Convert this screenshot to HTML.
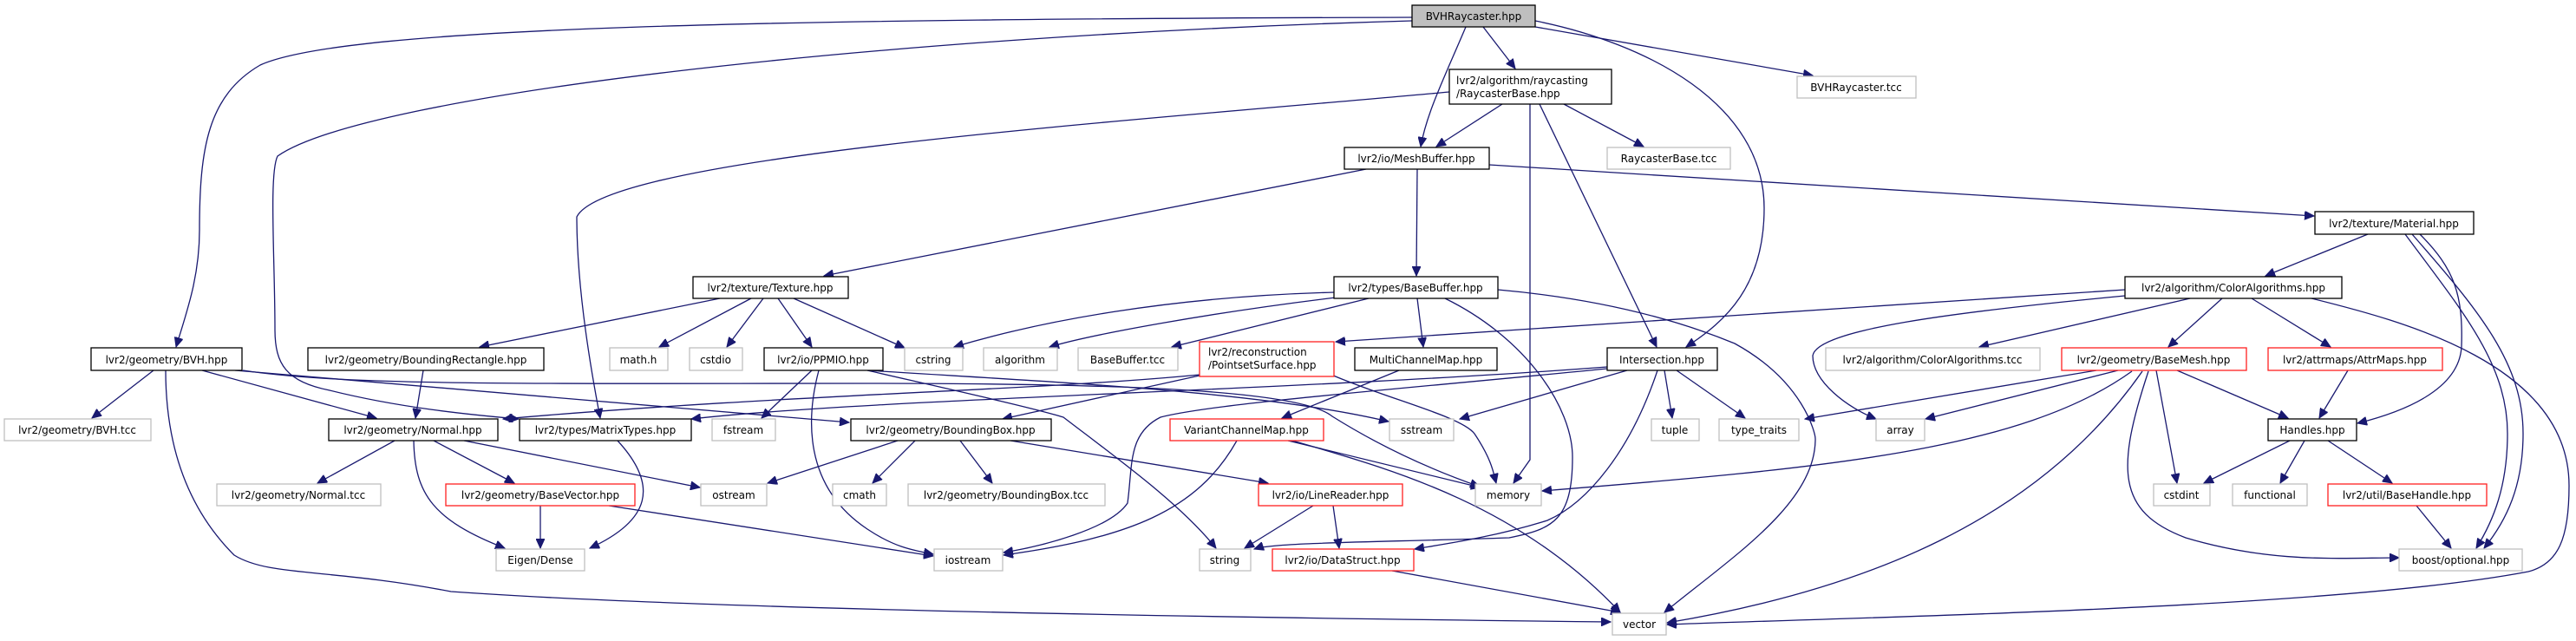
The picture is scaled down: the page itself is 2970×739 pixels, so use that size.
<!DOCTYPE html>
<html><head><meta charset="utf-8"><style>
html,body{margin:0;padding:0;background:#fff;}
svg{display:block;}
text{font-family:"DejaVu Sans","Liberation Sans",sans-serif;font-size:12px;fill:#000;}
.e{fill:none;stroke:#191970;stroke-width:1.3;marker-end:url(#a);}
.b{fill:#fff;stroke:#000;stroke-width:1.3;}
.r{fill:#fff;stroke:#ff2020;stroke-width:1.3;}
.g{fill:#fff;stroke:#bfbfbf;stroke-width:1.3;}
</style></head><body>
<svg width="2970" height="739" viewBox="0 0 2970 739" xmlns="http://www.w3.org/2000/svg">
<defs><marker id="a" markerUnits="userSpaceOnUse" markerWidth="12" markerHeight="10" refX="11" refY="5" orient="auto"><path d="M0,0 L11,5 L0,10 Z" fill="#191970" stroke="#191970"/></marker></defs>

<!-- edges -->
<path class="e" d="M1628,20 C900,22 400,30 300,75 C240,110 230,170 230,265 C230,320 215,360 203,400"/>
<path class="e" d="M1628,24 C1000,42 420,110 320,180 C310,200 317,300 317,380 C317,420 330,440 380,450 C460,470 540,478 598,483"/>
<path class="e" d="M1690,31 C1665,90 1645,130 1638,169"/>
<path class="e" d="M1710,31 L1747,79"/>
<path class="e" d="M1770,31 L2090,87"/>
<path class="e" d="M1770,24 C1900,50 2034,120 2034,240 C2034,330 1990,370 1944,400"/>
<path class="e" d="M1671,106 C1300,140 700,180 665,250 C665,330 680,420 692,482"/>
<path class="e" d="M1732,120 L1656,169"/>
<path class="e" d="M1803,120 L1895,169"/>
<path class="e" d="M1764,120 L1764,530 L1745,557"/>
<path class="e" d="M1775,120 L1910,400"/>
<path class="e" d="M1575,195 L950,318"/>
<path class="e" d="M1634,195 L1633,318"/>
<path class="e" d="M1717,190 L2668,249"/>
<path class="e" d="M2730,270 L2612,318"/>
<path class="e" d="M2790,270 C2830,310 2840,340 2838,400 C2835,450 2770,475 2718,488"/>
<path class="e" d="M2773,270 C2840,360 2891,420 2891,500 C2891,560 2875,600 2855,632"/>
<path class="e" d="M2781,270 C2860,360 2909,420 2909,500 C2909,560 2890,600 2864,632"/>
<path class="e" d="M2450,334 L1540,394"/>
<path class="e" d="M2525,344 L2282,400"/>
<path class="e" d="M2562,344 L2500,400"/>
<path class="e" d="M2596,344 L2687,400"/>
<path class="e" d="M2450,341 C2250,360 2095,380 2090,410 C2090,440 2130,470 2163,483"/>
<path class="e" d="M2665,344 C2770,370 2962,420 2962,560 C2962,620 2950,650 2915,659 C2700,700 2200,710 1922,720"/>
<path class="e" d="M2417,427 L2081,483"/>
<path class="e" d="M2442,427 L2220,483"/>
<path class="e" d="M2458,428 C2330,520 2100,540 1778,566"/>
<path class="e" d="M2470,428 C2350,600 2150,680 1922,718"/>
<path class="e" d="M2477,428 C2440,540 2440,590 2520,620 C2620,650 2700,643 2766,643"/>
<path class="e" d="M2486,427 L2510,557"/>
<path class="e" d="M2510,427 L2638,482"/>
<path class="e" d="M2707,427 L2674,482"/>
<path class="e" d="M2640,508 L2541,557"/>
<path class="e" d="M2657,508 L2629,557"/>
<path class="e" d="M2684,508 L2758,557"/>
<path class="e" d="M2786,583 L2826,632"/>
<path class="e" d="M1727,334 C1850,345 1937,370 2000,396 C2080,440 2093,500 2093,506 C2093,580 2000,640 1919,706"/>
<path class="e" d="M1666,344 C1760,390 1813,470 1813,527 C1813,600 1790,610 1740,620 C1600,625 1470,625 1446,633"/>
<path class="e" d="M1538,337 C1350,342 1200,370 1100,400"/>
<path class="e" d="M1540,343 C1400,360 1260,385 1210,400"/>
<path class="e" d="M1578,344 L1351,400"/>
<path class="e" d="M1634,344 L1641,400"/>
<path class="e" d="M830,344 L553,400"/>
<path class="e" d="M866,344 L760,400"/>
<path class="e" d="M880,344 L838,400"/>
<path class="e" d="M897,344 L936,400"/>
<path class="e" d="M915,344 L1043,401"/>
<path class="e" d="M936,427 L878,482"/>
<path class="e" d="M944,427 C930,480 925,560 1000,610 C1030,630 1050,634 1076,639"/>
<path class="e" d="M1000,427 C1100,450 1190,470 1226,481 C1290,530 1360,580 1402,632"/>
<path class="e" d="M1000,427 C1200,440 1450,450 1601,486"/>
<path class="e" d="M177,427 L106,482"/>
<path class="e" d="M233,427 L434,482"/>
<path class="e" d="M191,427 C191,520 220,590 270,640 C310,665 380,655 520,682 C800,702 1400,712 1857,717"/>
<path class="e" d="M271,427 L979,487"/>
<path class="e" d="M280,427 C400,445 600,442 1000,442 C1300,442 1500,450 1536,480 C1600,520 1660,545 1706,561"/>
<path class="e" d="M1383,432 C1200,450 900,455 580,483"/>
<path class="e" d="M1853,423 C1500,450 1000,460 797,483"/>
<path class="e" d="M1383,433 L1156,483"/>
<path class="e" d="M1535,432 C1600,460 1685,480 1700,500 C1720,530 1722,545 1725,557"/>
<path class="e" d="M1876,427 L1683,483"/>
<path class="e" d="M1919,427 L1928,482"/>
<path class="e" d="M1933,427 L2012,482"/>
<path class="e" d="M1853,425 C1600,450 1400,465 1338,481 C1300,500 1306,537 1300,580 C1280,610 1200,630 1157,637"/>
<path class="e" d="M1911,427 C1880,520 1830,580 1784,600 C1720,620 1660,628 1631,633"/>
<path class="e" d="M1613,427 L1478,482"/>
<path class="e" d="M1426,508 C1380,590 1300,620 1157,640"/>
<path class="e" d="M1485,508 L1707,562"/>
<path class="e" d="M1490,508 C1600,540 1750,580 1868,706"/>
<path class="e" d="M1055,508 L1006,557"/>
<path class="e" d="M1107,508 L1144,557"/>
<path class="e" d="M1165,508 L1462,557"/>
<path class="e" d="M1035,508 L885,557"/>
<path class="e" d="M1514,583 L1435,632"/>
<path class="e" d="M1537,583 L1544,632"/>
<path class="e" d="M1605,658 L1868,706"/>
<path class="e" d="M455,508 L366,557"/>
<path class="e" d="M500,508 L593,557"/>
<path class="e" d="M477,508 C478,570 500,600 582,632"/>
<path class="e" d="M535,508 L807,562"/>
<path class="e" d="M623,583 L623,632"/>
<path class="e" d="M702,583 L1076,641"/>
<path class="e" d="M712,508 C760,560 750,600 680,632"/>
<path class="e" d="M488,427 L479,482"/>

<!-- nodes -->
<rect x="1628" y="6" width="142" height="25" fill="#bfbfbf" stroke="#000" stroke-width="1.3"/><text x="1699" y="23" text-anchor="middle">BVHRaycaster.hpp</text>
<rect class="b" x="1671" y="80" width="187" height="40"/><text x="1679" y="97">lvr2/algorithm/raycasting</text><text x="1679" y="112">/RaycasterBase.hpp</text>
<rect class="g" x="2072" y="88" width="137" height="25"/><text x="2140" y="105" text-anchor="middle">BVHRaycaster.tcc</text>
<rect class="b" x="1550" y="170" width="167" height="25"/><text x="1633" y="187" text-anchor="middle">lvr2/io/MeshBuffer.hpp</text>
<rect class="g" x="1853" y="170" width="142" height="25"/><text x="1924" y="187" text-anchor="middle">RaycasterBase.tcc</text>
<rect class="b" x="2669" y="244" width="183" height="26"/><text x="2760" y="262" text-anchor="middle">lvr2/texture/Material.hpp</text>
<rect class="b" x="799" y="319" width="179" height="25"/><text x="888" y="336" text-anchor="middle">lvr2/texture/Texture.hpp</text>
<rect class="b" x="1538" y="319" width="189" height="25"/><text x="1632" y="336" text-anchor="middle">lvr2/types/BaseBuffer.hpp</text>
<rect class="b" x="2450" y="319" width="250" height="25"/><text x="2575" y="336" text-anchor="middle">lvr2/algorithm/ColorAlgorithms.hpp</text>

<rect class="b" x="105" y="401" width="174" height="26"/><text x="192" y="419" text-anchor="middle">lvr2/geometry/BVH.hpp</text>
<rect class="b" x="355" y="401" width="272" height="26"/><text x="491" y="419" text-anchor="middle">lvr2/geometry/BoundingRectangle.hpp</text>
<rect class="g" x="703" y="401" width="67" height="26"/><text x="736" y="419" text-anchor="middle">math.h</text>
<rect class="g" x="795" y="401" width="61" height="26"/><text x="825" y="419" text-anchor="middle">cstdio</text>
<rect class="b" x="881" y="401" width="137" height="26"/><text x="949" y="419" text-anchor="middle">lvr2/io/PPMIO.hpp</text>
<rect class="g" x="1043" y="401" width="67" height="26"/><text x="1076" y="419" text-anchor="middle">cstring</text>
<rect class="g" x="1134" y="401" width="85" height="26"/><text x="1176" y="419" text-anchor="middle">algorithm</text>
<rect class="g" x="1243" y="401" width="115" height="26"/><text x="1300" y="419" text-anchor="middle">BaseBuffer.tcc</text>
<rect class="r" x="1383" y="394" width="155" height="40"/><text x="1393" y="410">lvr2/reconstruction</text><text x="1393" y="425">/PointsetSurface.hpp</text>
<rect class="b" x="1562" y="401" width="164" height="26"/><text x="1644" y="419" text-anchor="middle">MultiChannelMap.hpp</text>
<rect class="b" x="1853" y="401" width="127" height="26"/><text x="1916" y="419" text-anchor="middle">Intersection.hpp</text>
<rect class="g" x="2105" y="401" width="247" height="26"/><text x="2228" y="419" text-anchor="middle">lvr2/algorithm/ColorAlgorithms.tcc</text>
<rect class="r" x="2377" y="401" width="213" height="26"/><text x="2483" y="419" text-anchor="middle">lvr2/geometry/BaseMesh.hpp</text>
<rect class="r" x="2615" y="401" width="201" height="26"/><text x="2715" y="419" text-anchor="middle">lvr2/attrmaps/AttrMaps.hpp</text>

<rect class="g" x="5" y="483" width="169" height="25"/><text x="89" y="500" text-anchor="middle">lvr2/geometry/BVH.tcc</text>
<rect class="b" x="379" y="483" width="195" height="25"/><text x="476" y="500" text-anchor="middle">lvr2/geometry/Normal.hpp</text>
<rect class="b" x="599" y="483" width="198" height="25"/><text x="698" y="500" text-anchor="middle">lvr2/types/MatrixTypes.hpp</text>
<rect class="g" x="821" y="483" width="73" height="25"/><text x="857" y="500" text-anchor="middle">fstream</text>
<rect class="b" x="981" y="483" width="231" height="25"/><text x="1096" y="500" text-anchor="middle">lvr2/geometry/BoundingBox.hpp</text>
<rect class="r" x="1349" y="483" width="177" height="25"/><text x="1437" y="500" text-anchor="middle">VariantChannelMap.hpp</text>
<rect class="g" x="1602" y="483" width="74" height="25"/><text x="1639" y="500" text-anchor="middle">sstream</text>
<rect class="g" x="1904" y="483" width="55" height="25"/><text x="1931" y="500" text-anchor="middle">tuple</text>
<rect class="g" x="1982" y="483" width="92" height="25"/><text x="2028" y="500" text-anchor="middle">type_traits</text>
<rect class="g" x="2163" y="483" width="56" height="25"/><text x="2191" y="500" text-anchor="middle">array</text>
<rect class="b" x="2615" y="483" width="102" height="25"/><text x="2666" y="500" text-anchor="middle">Handles.hpp</text>

<rect class="g" x="250" y="558" width="189" height="25"/><text x="344" y="575" text-anchor="middle">lvr2/geometry/Normal.tcc</text>
<rect class="r" x="514" y="558" width="218" height="25"/><text x="623" y="575" text-anchor="middle">lvr2/geometry/BaseVector.hpp</text>
<rect class="g" x="808" y="558" width="76" height="25"/><text x="846" y="575" text-anchor="middle">ostream</text>
<rect class="g" x="960" y="558" width="62" height="25"/><text x="991" y="575" text-anchor="middle">cmath</text>
<rect class="g" x="1047" y="558" width="227" height="25"/><text x="1160" y="575" text-anchor="middle">lvr2/geometry/BoundingBox.tcc</text>
<rect class="r" x="1451" y="558" width="166" height="25"/><text x="1534" y="575" text-anchor="middle">lvr2/io/LineReader.hpp</text>
<rect class="g" x="1701" y="558" width="76" height="25"/><text x="1739" y="575" text-anchor="middle">memory</text>
<rect class="g" x="2483" y="558" width="65" height="25"/><text x="2515" y="575" text-anchor="middle">cstdint</text>
<rect class="g" x="2574" y="558" width="86" height="25"/><text x="2617" y="575" text-anchor="middle">functional</text>
<rect class="r" x="2684" y="558" width="183" height="25"/><text x="2775" y="575" text-anchor="middle">lvr2/util/BaseHandle.hpp</text>

<rect class="g" x="572" y="633" width="102" height="25"/><text x="623" y="650" text-anchor="middle">Eigen/Dense</text>
<rect class="g" x="1077" y="633" width="79" height="25"/><text x="1116" y="650" text-anchor="middle">iostream</text>
<rect class="g" x="1383" y="633" width="59" height="25"/><text x="1412" y="650" text-anchor="middle">string</text>
<rect class="r" x="1467" y="633" width="163" height="25"/><text x="1548" y="650" text-anchor="middle">lvr2/io/DataStruct.hpp</text>
<rect class="g" x="2766" y="633" width="142" height="25"/><text x="2837" y="650" text-anchor="middle">boost/optional.hpp</text>
<rect class="g" x="1859" y="707" width="62" height="25"/><text x="1890" y="724" text-anchor="middle">vector</text>
</svg>
</body></html>
